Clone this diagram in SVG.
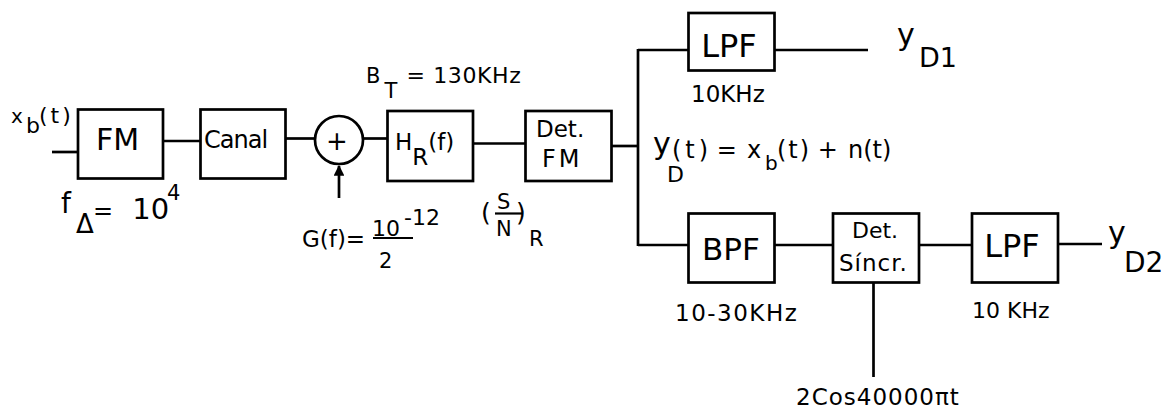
<svg xmlns="http://www.w3.org/2000/svg" width="1168" height="412" viewBox="0 0 1168 412">
<style>
.box{fill:none;stroke:#000;stroke-width:2.7}
.wire{fill:none;stroke:#000;stroke-width:2.7}
.bar{stroke:#000;stroke-width:2.2}
text{font-family:"DejaVu Sans","Liberation Sans",sans-serif;fill:#000}
</style>
<defs>
<marker id="tip" viewBox="0 0 10 10" refX="9" refY="5" markerWidth="4" markerHeight="4" orient="auto" markerUnits="strokeWidth">
<path d="M0,0 L10,5 L0,10 z" fill="#000"/>
</marker>
</defs>
<rect width="1168" height="412" fill="#fff"/>

<g id="connectors">
<line class="wire" x1="52" y1="152" x2="78" y2="152"/>
<line class="wire" x1="163" y1="141" x2="200" y2="141"/>
<line class="wire" x1="286" y1="138.5" x2="315" y2="138.5"/>
<line class="wire" x1="363" y1="138.5" x2="388" y2="138.5"/>
<line class="wire" x1="339" y1="198" x2="339" y2="166" marker-end="url(#tip)"/>
<line class="wire" x1="473" y1="143.5" x2="525" y2="143.5"/>
<line class="wire" x1="612" y1="146" x2="638" y2="146"/>
<line class="wire" x1="638" y1="49" x2="638" y2="246"/>
<line class="wire" x1="638" y1="50" x2="689" y2="50"/>
<line class="wire" x1="775" y1="50" x2="868" y2="50"/>
<line class="wire" x1="638" y1="245" x2="689" y2="245"/>
<line class="wire" x1="775" y1="245" x2="833" y2="245"/>
<line class="wire" x1="919" y1="245" x2="972" y2="245"/>
<line class="wire" x1="1058" y1="244" x2="1102" y2="244"/>
<line class="wire" x1="873.5" y1="283" x2="873.5" y2="377"/>
</g>

<g id="n-fm">
<rect class="box" x="78" y="109.5" width="85" height="69"/>
<text x="96" y="150" font-size="30">FM</text>
</g>
<g id="n-canal">
<rect class="box" x="200.5" y="109.5" width="85" height="69"/>
<text x="204" y="148" font-size="24" letter-spacing="-1">Canal</text>
</g>
<g id="n-sum">
<circle class="box" cx="339" cy="140" r="24" stroke-width="2.4"/>
<text x="337" y="149.5" font-size="26" text-anchor="middle">+</text>
</g>
<g id="n-hr">
<rect class="box" x="387.5" y="111" width="85.5" height="70"/>
<text x="395" y="150" font-size="23">H<tspan y="165">R</tspan><tspan y="150">(f)</tspan></text>
</g>
<g id="n-detfm">
<rect class="box" x="525.5" y="111" width="86" height="70"/>
<text x="536" y="137" font-size="23">Det.</text>
<text x="542" y="167" font-size="24" letter-spacing="3">FM</text>
</g>
<g id="n-lpf1">
<rect class="box" x="688.5" y="13" width="86" height="57.5"/>
<text x="729" y="57" font-size="32" text-anchor="middle">LPF</text>
</g>
<g id="n-bpf">
<rect class="box" x="688.5" y="213.5" width="86" height="69"/>
<text x="731" y="260" font-size="31" text-anchor="middle">BPF</text>
</g>
<g id="n-detsinc">
<rect class="box" x="833" y="213.5" width="86" height="69"/>
<text x="852" y="238" font-size="22">Det.</text>
<text x="839" y="271" font-size="23" letter-spacing="1">Síncr.</text>
</g>
<g id="n-lpf2">
<rect class="box" x="972" y="213.5" width="86" height="69"/>
<text x="1012" y="257" font-size="32" text-anchor="middle">LPF</text>
</g>

<g id="labels">
<text font-size="22"><tspan x="11" y="123" font-size="20">x</tspan><tspan x="26" y="133">b</tspan><tspan x="39" y="123" letter-spacing="3">(t)</tspan></text>
<text font-size="28"><tspan x="61" y="213">f</tspan><tspan x="76" y="233" font-size="26">Δ</tspan><tspan x="93" y="219" font-size="24">=</tspan><tspan x="123" y="219" font-size="29"> 10</tspan><tspan x="167" y="200" font-size="21">4</tspan></text>
<text x="366" y="83" font-size="21">B<tspan dx="4" y="98">T</tspan><tspan x="399" y="83" font-size="22" letter-spacing="0.6"> = 130KHz</tspan></text>
<text x="302" y="247" font-size="23">G(f)=</text>
<text x="372" y="236" font-size="22">10</text>
<line class="bar" x1="373" y1="238" x2="413" y2="238"/>
<text x="404" y="225" font-size="22">-12</text>
<text x="379" y="268" font-size="21">2</text>
<text font-size="21"><tspan x="481" y="221" font-size="25">(</tspan><tspan x="497" y="209">S</tspan><tspan x="496" y="236">N</tspan><tspan x="516" y="221" font-size="25">)</tspan><tspan x="529" y="246">R</tspan></text>
<line class="bar" x1="495" y1="213.5" x2="522" y2="213.5"/>
<text x="691" y="102" font-size="23">10KHz</text>
<text font-size="27"><tspan x="897" y="45" font-size="30">y</tspan><tspan x="919" y="67">D1</tspan></text>
<text font-size="24"><tspan x="653" y="154" font-size="30">y</tspan><tspan x="667" y="182" font-size="22">D</tspan><tspan x="672" y="158" letter-spacing="4">(t)</tspan><tspan x="709" y="158"> = </tspan><tspan x="747" y="158">x</tspan><tspan x="765" y="170" font-size="20">b</tspan><tspan x="777" y="158" letter-spacing="2">(t)</tspan><tspan x="810" y="158"> + </tspan><tspan x="848" y="158">n(t)</tspan></text>
<text font-size="28"><tspan x="1108" y="243" font-size="30">y</tspan><tspan x="1124" y="272">D2</tspan></text>
<text x="675" y="321" font-size="23" letter-spacing="1.5">10-30KHz</text>
<text x="972" y="318" font-size="22">10 KHz</text>
<text x="796" y="405" font-size="23" letter-spacing="1">2Cos40000πt</text>
</g>
</svg>
